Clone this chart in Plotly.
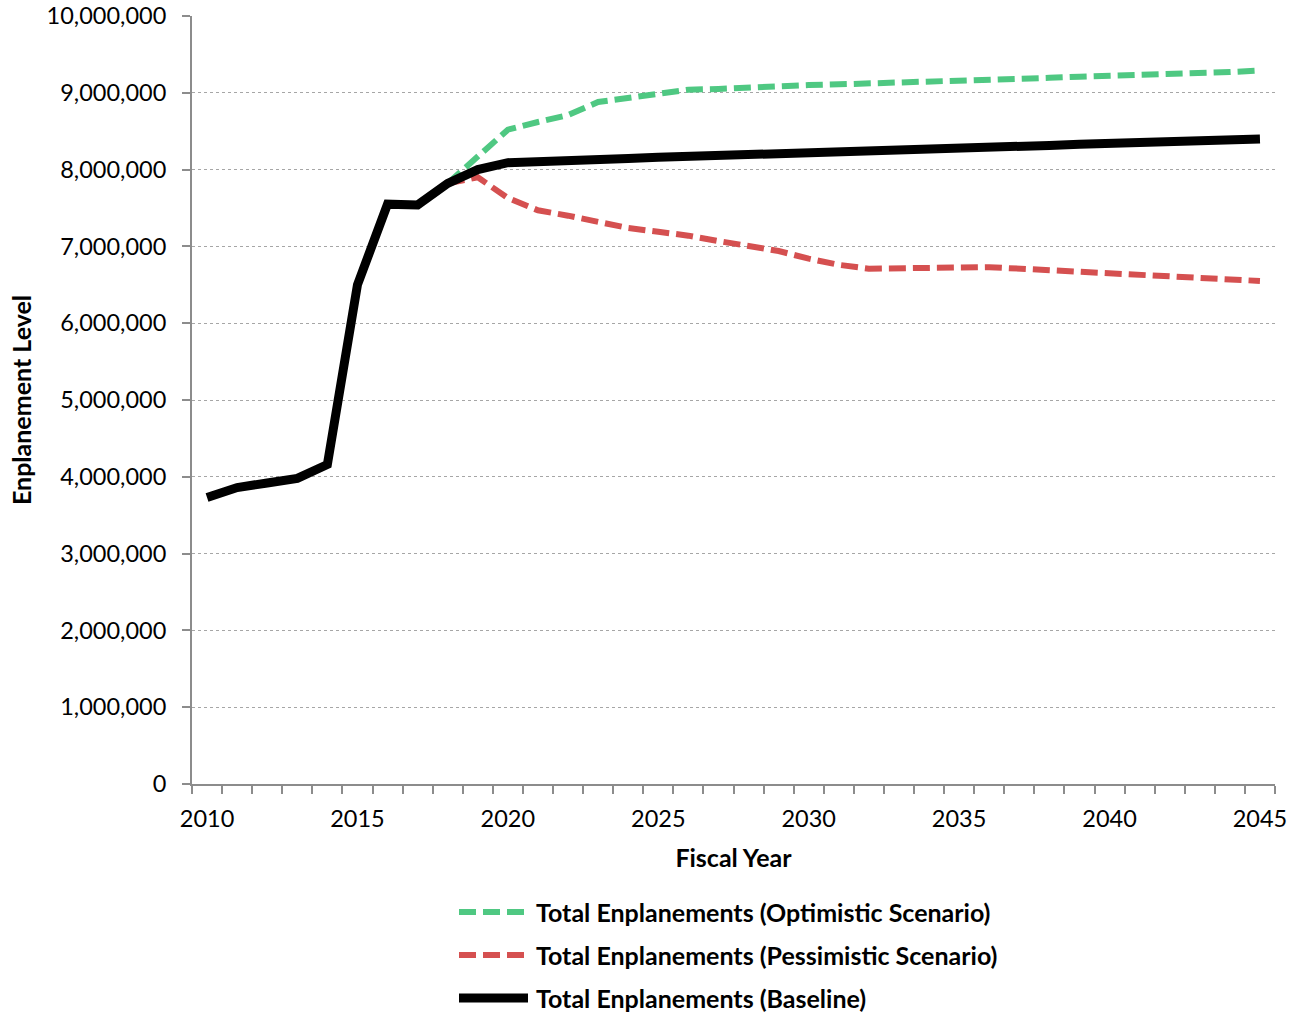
import plotly.graph_objects as go

years = list(range(2010, 2046))

baseline = [3.73, 3.86, 3.92, 3.98, 4.16, 6.50, 7.55, 7.54, 7.82, 8.00,
            8.09, 8.11, 8.125, 8.135, 8.145, 8.16, 8.17, 8.185, 8.195, 8.21,
            8.22, 8.23, 8.245, 8.255, 8.27, 8.28, 8.29, 8.305, 8.315, 8.33,
            8.34, 8.35, 8.365, 8.375, 8.39, 8.40]

optimistic = [None, None, None, None, None, None, None, None, 7.82, 8.17,
              8.52, 8.62, 8.71, 8.88, 8.93, 8.98, 9.04, 9.05, 9.07, 9.08,
              9.10, 9.11, 9.12, 9.135, 9.14, 9.155, 9.165, 9.18, 9.195, 9.21,
              9.22, 9.24, 9.25, 9.26, 9.27, 9.29]

pessimistic = [None, None, None, None, None, None, None, None, 7.82, 7.90,
               7.63, 7.47, 7.40, 7.31, 7.24, 7.19, 7.14, 7.07, 7.01, 6.94,
               6.84, 6.76, 6.71, 6.71, 6.72, 6.725, 6.73, 6.71, 6.69, 6.675,
               6.66, 6.64, 6.62, 6.60, 6.575, 6.55]

series_names = ["Total Enplanements (Optimistic Scenario)",
                "Total Enplanements (Pessimistic Scenario)",
                "Total Enplanements (Baseline)"]

x_tick_labels = [2010, 2015, 2020, 2025, 2030, 2035, 2040, 2045]
y_tick_values = [i * 1_000_000 for i in range(11)]

GREEN = "#4FC882"
RED = "#D55050"
BLACK = "#000000"
FONT = "Lato, 'Open Sans', sans-serif"
DASH = "17px,7px"

def scale(vals):
    return [None if v is None else v * 1_000_000 for v in vals]

fig = go.Figure()
fig.add_trace(go.Scatter(x=years, y=scale(optimistic), mode="lines", name=series_names[0],
                         line=dict(color=GREEN, width=6, dash=DASH), showlegend=False))
fig.add_trace(go.Scatter(x=years, y=scale(pessimistic), mode="lines", name=series_names[1],
                         line=dict(color=RED, width=6, dash=DASH), showlegend=False))
fig.add_trace(go.Scatter(x=years, y=scale(baseline), mode="lines", name=series_names[2],
                         line=dict(color=BLACK, width=9), showlegend=False))

L, R, T, B = 192, 27, 16, 230
W, H = 1302, 1014
pw, ph = W - L - R, H - T - B

def px_to_paper(px, py):
    return (px - L) / pw, (H - B - py) / ph

# manual legend
legend_y = [912, 955, 998]
legend_styles = [dict(color=GREEN, width=6, dash=DASH),
                 dict(color=RED, width=6, dash=DASH),
                 dict(color=BLACK, width=9, dash="solid")]
shapes = []
annotations = []
for name, py, st in zip(series_names, legend_y, legend_styles):
    x0, y0 = px_to_paper(459, py)
    x1, _ = px_to_paper(528, py)
    shapes.append(dict(type="line", xref="paper", yref="paper", x0=x0, x1=x1, y0=y0, y1=y0,
                       line=dict(color=st["color"], width=st["width"], dash=st["dash"])))
    tx, ty = px_to_paper(534, py)
    annotations.append(dict(xref="paper", yref="paper", x=tx, y=ty, xanchor="left", yanchor="middle",
                            text="<b>" + name + "</b>", showarrow=False,
                            font=dict(family=FONT, size=25, color="#000000")))

fig.update_layout(
    width=W, height=H,
    margin=dict(l=L, r=R, t=T, b=B, pad=0),
    paper_bgcolor="white", plot_bgcolor="white",
    font=dict(family=FONT, size=23.5, color="#000000"),
    shapes=shapes, annotations=annotations,
    showlegend=False,
)

fig.update_xaxes(
    range=[2009.5, 2045.5], automargin=False,
    tickmode="array", tickvals=x_tick_labels, ticktext=[str(v) for v in x_tick_labels],
    ticks="", showgrid=False, zeroline=False,
    showline=True, linecolor="#8c8c8c", linewidth=2,
    minor=dict(tickmode="array", tickvals=[y - 0.5 for y in range(2010, 2047)],
               ticks="outside", ticklen=8, tickcolor="#8c8c8c", tickwidth=2, showgrid=False),
    tickfont=dict(family=FONT, size=23.5),
    ticklabelstandoff=13,
    title=dict(text="<b>Fiscal Year</b>", font=dict(family=FONT, size=25), standoff=18),
)

fig.update_yaxes(
    range=[0, 10_000_000], automargin=False,
    tickmode="array", tickvals=y_tick_values, tickformat=",",
    ticks="outside", ticklen=8, tickcolor="#8c8c8c", tickwidth=2,
    showgrid=True, gridcolor="#a6a6a6", gridwidth=1, griddash="dot",
    zeroline=False,
    showline=True, linecolor="#8c8c8c", linewidth=2,
    tickfont=dict(family=FONT, size=23.5),
    ticklabelstandoff=11,
    title=dict(text="<b>Enplanement Level</b>", font=dict(family=FONT, size=25), standoff=8),
)

fig.write_html("out.html", config={"displayModeBar": False},
               post_script="document.body.style.margin='0px';document.body.style.overflow='hidden';")
